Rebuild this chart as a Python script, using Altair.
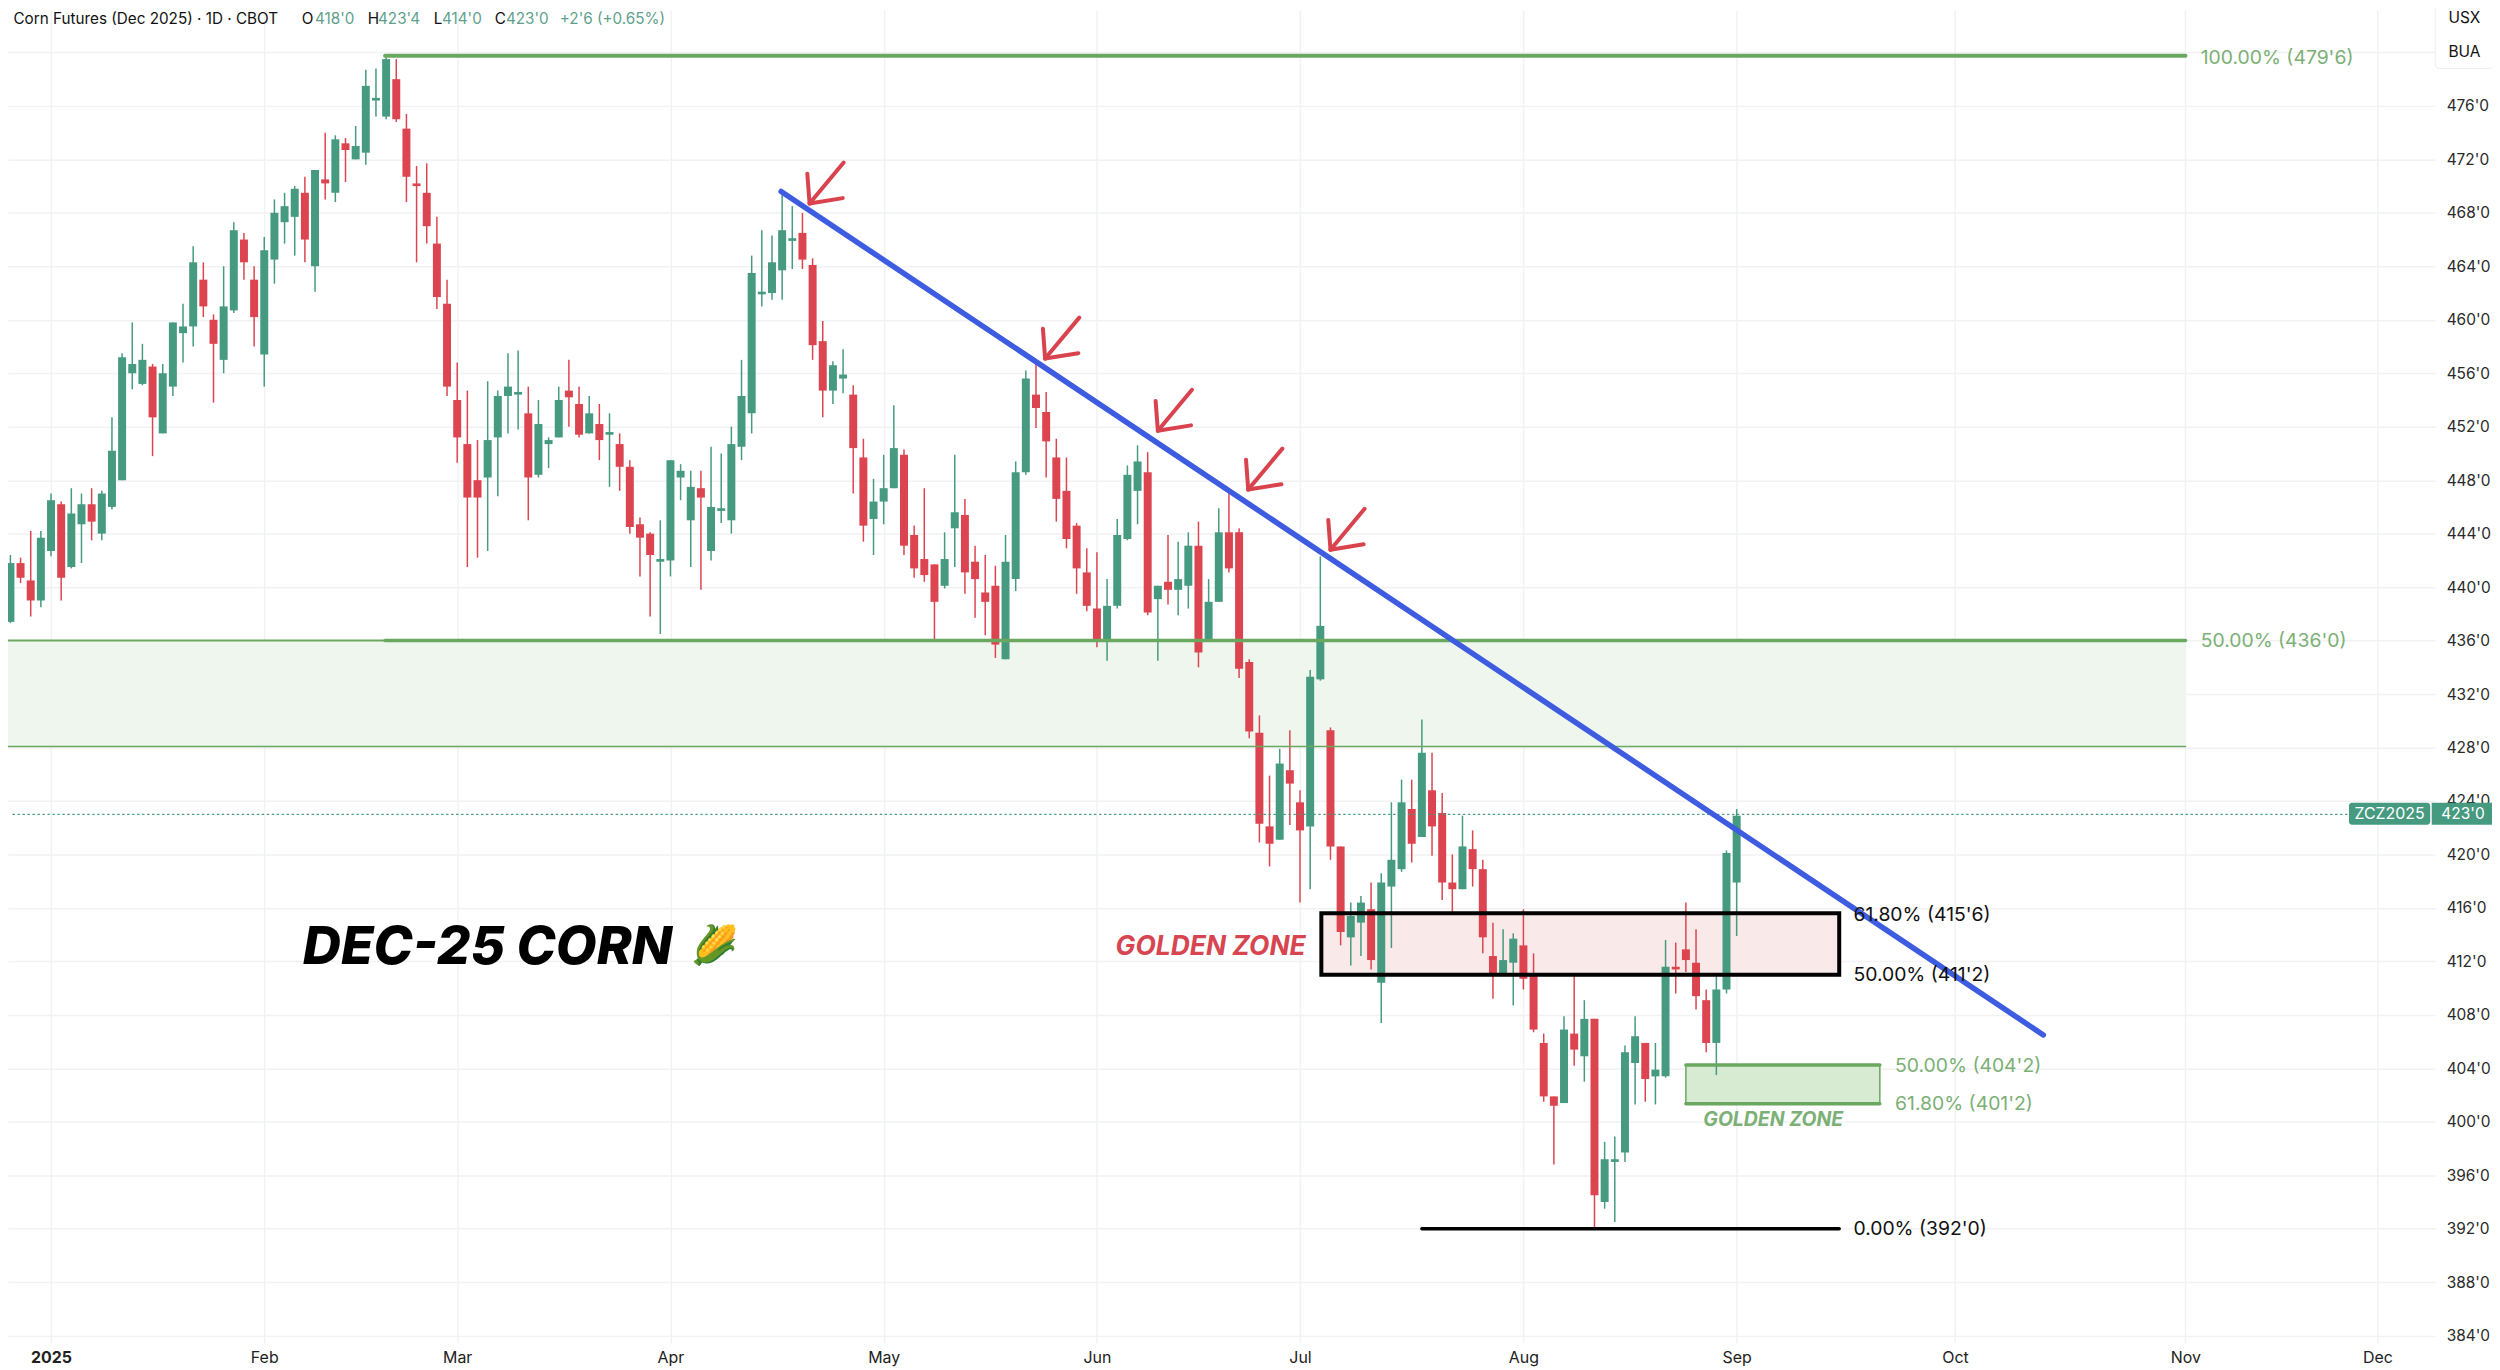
import altair as alt
import pandas as pd

FONT = "Inter"
GREEN = "#469a80"
RED = "#dc4550"
FIB = "#6aa860"
FIBTXT = "#7cb076"

directions = list(
    "GRRGGRGGRG" "GGGGRGGGGR" "RGGRRGGGGR" "GRGRGGGGRR" "RRRRRRRGGG" "GRGGGRRGRG"
    "RRRRGGGGRG" "GGGGGGGGRR" "RGGRRGGGRR" "RRGGRRRRGG" "GRRRRRRRGG" "GGRGRGGRGG"
    "RRRRRGRRGG" "RRGGRGGGRG" "RRRGRRRGGR" "RRRGRGRGGG" "GRGGRRRRGGG"
)
highs = [
442.4,442.2,444.2,444.2,447.0,446.4,447.4,447.0,447.4,447.2,
452.7,457.5,459.8,458.2,456.7,456.7,459.8,461.2,465.5,464.3,
460.4,464.0,467.3,466.5,464.0,466.2,469.0,469.5,470.0,470.7,
471.2,474.0,473.8,473.6,474.5,478.7,478.8,479.8,479.5,475.4,
471.5,471.7,467.7,463.0,456.8,454.7,451.0,455.4,454.7,457.5,
457.7,455.0,454.0,451.2,455.0,457.0,455.0,454.3,453.7,453.0,
451.5,449.5,445.2,444.1,445.0,449.5,449.2,448.7,448.7,450.5,
450.0,452.0,457.0,464.8,466.7,466.3,469.6,468.5,468.0,464.6,
459.9,456.9,457.8,455.1,451.1,448.1,449.9,453.6,450.3,444.6,
447.4,441.7,444.1,449.9,446.6,443.1,442.4,441.6,443.9,449.4,
456.2,456.7,454.6,451.1,449.7,444.8,442.9,442.6,440.6,445.1,
449.1,450.6,450.1,440.1,443.9,443.4,444.1,444.9,440.6,445.9,
447.1,444.4,434.6,430.4,425.9,427.9,429.3,424.8,433.8,442.3,
429.5,420.6,416.4,416.9,417.9,418.6,423.9,425.6,425.6,430.1,
427.6,424.6,420.0,422.9,421.8,419.6,414.9,414.4,414.1,415.9,
412.6,406.6,401.9,407.9,411.0,409.1,407.7,398.5,398.9,405.7,
407.9,405.9,405.9,413.6,413.4,416.4,414.4,409.9,410.9,420.3,423.4,
]
tops = [
441.8,441.8,440.5,443.7,446.5,446.2,445.5,446.2,446.2,447.0,
450.2,457.2,456.7,457.0,456.5,456.0,459.8,459.5,464.3,463.0,
460.0,461.0,466.7,466.0,463.0,465.2,468.0,468.5,469.8,469.5,
471.2,470.5,473.5,473.2,473.0,477.5,476.6,479.5,478.0,474.3,
470.2,469.5,465.7,461.2,454.0,450.7,448.0,451.0,454.3,455.0,
454.6,453.0,452.2,451.0,454.0,454.7,453.7,453.0,452.2,451.6,
450.7,449.0,444.7,444.0,442.1,449.5,448.7,447.5,447.4,446.0,
445.9,450.7,454.3,463.5,462.1,464.3,466.7,466.1,466.5,464.1,
458.4,456.6,455.9,454.4,449.7,446.4,447.4,450.4,449.9,443.9,
442.1,441.7,442.1,445.6,445.4,441.9,439.6,440.1,441.9,448.6,
455.6,454.4,453.1,449.7,447.2,444.6,441.1,438.4,438.6,443.9,
448.4,449.4,448.6,440.1,440.4,440.6,443.1,443.1,438.9,444.1,
444.1,444.1,434.4,429.1,422.1,426.8,426.3,423.9,433.3,437.1,
429.3,420.6,415.4,416.4,415.9,417.9,419.6,423.9,423.4,427.6,
424.8,423.1,417.9,420.6,420.4,418.9,412.4,412.1,413.7,413.2,
411.0,405.9,401.9,406.9,406.6,407.7,407.7,397.2,397.2,405.2,
406.4,405.9,403.9,411.6,411.6,412.9,411.9,409.1,409.9,420.1,422.9,
]
bottoms = [
437.4,440.7,439.0,439.0,442.7,440.7,441.5,444.7,444.9,444.0,
446.0,448.0,456.0,455.2,452.7,451.5,455.0,459.0,459.5,461.0,
458.2,457.0,460.7,464.3,460.2,457.4,464.5,467.3,467.7,466.0,
464.0,470.2,469.5,472.7,472.0,472.5,476.4,475.2,475.0,470.7,
470.0,467.0,461.7,455.0,451.2,446.7,446.7,448.2,451.2,454.3,
454.4,448.2,448.4,450.7,451.2,454.2,451.4,451.5,451.0,451.4,
449.0,444.5,443.7,442.4,441.9,442.0,448.2,445.0,446.7,442.7,
445.7,445.0,450.5,453.0,461.9,462.0,463.7,465.9,464.5,458.1,
454.7,454.7,455.6,450.4,444.6,445.1,446.4,447.4,443.1,441.4,
440.9,438.9,440.1,444.4,441.1,440.6,438.9,435.7,434.6,440.6,
448.6,453.4,450.9,446.6,443.6,441.4,438.6,436.1,436.1,438.6,
443.6,447.2,438.1,439.1,439.8,439.8,440.1,435.1,436.1,438.9,
441.4,433.9,429.2,422.3,420.8,421.1,425.3,421.8,422.1,433.1,
420.6,414.2,413.8,414.9,412.1,410.4,417.6,418.9,420.8,421.3,
422.1,417.9,417.4,417.4,418.9,413.8,411.1,411.0,411.9,410.7,
406.9,401.9,401.2,401.4,405.4,404.9,394.5,394.0,397.0,397.7,
404.4,403.2,403.4,403.4,411.4,412.1,409.4,405.9,405.9,409.9,417.9,
]
lows = [
437.3,440.3,437.8,438.5,442.3,439.0,441.4,441.8,443.5,443.5,
445.8,448.0,454.8,455.1,449.8,451.5,454.3,456.8,458.0,460.2,
453.8,456.0,460.5,463.0,458.0,455.0,462.7,465.7,464.8,464.3,
462.1,469.0,468.8,470.3,472.0,471.6,475.2,475.0,474.8,468.8,
464.3,465.7,460.8,454.3,449.3,441.5,442.2,442.7,446.8,451.5,
451.8,445.0,448.2,448.9,451.2,452.0,451.2,451.5,449.5,447.5,
447.2,444.0,440.8,437.8,436.5,440.8,446.5,441.5,439.8,442.0,
444.8,444.0,449.5,451.5,461.0,461.5,461.5,463.8,463.8,457.0,
452.7,453.7,454.5,447.0,443.4,442.4,444.7,447.4,442.4,440.7,
440.4,436.1,439.9,441.5,439.5,437.7,436.4,434.7,434.6,439.7,
448.4,451.9,448.2,444.9,442.9,439.5,438.2,435.5,434.5,438.4,
443.5,444.7,437.9,434.5,438.7,437.9,438.4,434.0,436.1,438.9,
441.1,433.2,428.7,420.9,419.1,421.1,422.2,416.4,417.4,433.0,
419.6,413.2,411.7,412.4,411.4,407.4,413.0,418.7,419.4,421.3,
419.9,416.6,415.7,417.4,417.6,412.6,409.2,411.0,408.7,409.9,
406.7,401.5,396.8,401.4,404.2,403.0,392.1,393.5,392.5,397.0,
401.3,401.5,401.3,403.3,409.6,411.2,408.4,405.2,403.5,409.6,413.9,
]

month_positions = [4, 25, 44, 65, 86, 107, 127, 149, 170, 191.5, 214.2, 233.1]
month_labels = ["2025", "Feb", "Mar", "Apr", "May", "Jun", "Jul", "Aug", "Sep", "Oct", "Nov", "Dec"]
price_ticks = list(range(384, 481, 4))

candles = pd.DataFrame({
    "i": range(len(highs)), "high": highs, "low": lows, "top": tops, "bottom": bottoms, "dir": directions,
})

label_map = "{" + ",".join(f"'{p}':'{l}'" for p, l in zip(month_positions, month_labels)) + "}"
x_axis = alt.Axis(
    orient="bottom", values=month_positions, labelExpr=f"{label_map}[datum.value]", title=None,
    grid=True, gridColor="#f1f2f4", gridWidth=1.5, domain=False, ticks=False, labelFont=FONT,
    labelFontSize=16, labelColor="#222222", labelPadding=7, labelOverlap=False, labelFlush=False,
    labelBound=False, labelFontWeight=alt.ExprRef("datum.value == 4 ? 'bold' : 'normal'"),
)
y_axis = alt.Axis(
    orient="right", values=price_ticks, labelExpr="datum.value == 480 ? '' : datum.value + \"'0\"",
    title=None, grid=True, gridColor="#f1f2f4", gridWidth=1.5, domain=False, ticks=False,
    labelFont=FONT, labelFontSize=15.5, labelColor="#2a2a2a", labelPadding=11, labelOverlap=False,
    labelFlush=False, labelBound=False,
)

xs = alt.Scale(domain=[0.254, 238.3], nice=False, zero=False)
ys = alt.Scale(domain=[383.46, 483.16], nice=False, zero=False)
X = lambda f="x": alt.X(f"{f}:Q", scale=xs, axis=x_axis)
Y = lambda f="y": alt.Y(f"{f}:Q", scale=ys, axis=y_axis)
COL = alt.Color("dir:N", scale=alt.Scale(domain=["G", "R"], range=[GREEN, RED]), legend=None)


def rect(x, x2, y, y2, **kw):
    d = pd.DataFrame({"x": [x], "x2": [x2], "y": [y], "y2": [y2]})
    return alt.Chart(d).mark_rect(**kw).encode(X(), x2="x2:Q", y=Y(), y2="y2:Q")


def hline(x, x2, y, color, width, **kw):
    d = pd.DataFrame({"x": [x], "x2": [x2], "y": [y]})
    return alt.Chart(d).mark_rule(color=color, strokeWidth=width, strokeCap="round", **kw).encode(X(), x2="x2:Q", y=Y())


def label(x, y, text, color, size, align="left", weight="normal", style="normal", font=FONT):
    d = pd.DataFrame({"x": [x], "y": [y], "t": [text]})
    return alt.Chart(d).mark_text(
        color=color, fontSize=size, align=align, baseline="middle", fontWeight=weight, fontStyle=style, font=font
    ).encode(X(), Y(), text="t:N")


layers = [
    rect(-1, 214.2, 436.0, 428.08, fill="#eef6ee"),
    rect(129.1, 180.1, 415.6, 411.0, fill="#f9e9e9"),
    rect(165, 184.1, 404.25, 401.35, fill="#d6ebd2"),
]

# candles
layers.append(alt.Chart(candles).mark_rule(strokeWidth=1.5).encode(X("i"), Y("high"), y2="low:Q", color=COL))
layers.append(alt.Chart(candles).mark_bar(size=8).encode(X("i"), Y("top"), y2="bottom:Q", color=COL))

# fib levels and band lines
layers += [
    hline(36.9, 214.2, 479.75, FIB, 4),
    hline(-1, 36.9, 436.0, FIB, 2),
    hline(36.9, 214.2, 436.0, FIB, 3.5),
    hline(-1, 214.2, 428.08, FIB, 1.5),
    hline(0.254, 230.3, 423.0, GREEN, 1.2, strokeDash=[1.5, 3.5]),
    rect(165, 184.1, 404.25, 401.35, fillOpacity=0, fill="#ffffff", stroke=FIB, strokeWidth=1.5),
    hline(165, 184.1, 404.25, FIB, 3.5),
    hline(165, 184.1, 401.35, FIB, 3.5),
    rect(129.1, 180.1, 415.6, 411.0, fillOpacity=0, fill="#ffffff", stroke="#000000", strokeWidth=4),
    hline(139, 180.1, 392.0, "#000000", 3.5),
]

# trend line
trend = pd.DataFrame({"x": [75.9, 200.2], "y": [469.6, 406.5]})
layers.append(alt.Chart(trend).mark_line(color="#3d5ce0", strokeWidth=5.5, strokeCap="round").encode(X(), Y()))

# red arrows: tip position, then shaft and head offsets in bars/price
arrow_tip_x = [78.7, 101.9, 113.0, 121.9, 130.0]
arrow_tip_y = [468.7, 457.1, 451.7, 447.3, 442.8]
rows = []
for n, (tx, ty) in enumerate(zip(arrow_tip_x, arrow_tip_y)):
    for part, (dx, dy) in enumerate([(3.36, 3.06), (-0.22, 2.23), (3.27, 0.4)]):
        rows.append({"a": f"{n}-{part}", "o": 0, "x": tx, "y": ty})
        rows.append({"a": f"{n}-{part}", "o": 1, "x": tx + dx, "y": ty + dy})
layers.append(
    alt.Chart(pd.DataFrame(rows)).mark_line(color="#d9434e", strokeWidth=4, strokeCap="round").encode(
        X(), Y(), detail="a:N", order="o:Q"
    )
)

# labels
layers += [
    label(215.7, 479.6, "100.00% (479'6)", FIBTXT, 19.4),
    label(215.7, 436.0, "50.00% (436'0)", FIBTXT, 19.4),
    label(181.5, 415.5, "61.80% (415'6)", "#111111", 19.4),
    label(181.5, 411.0, "50.00% (411'2)", "#111111", 19.4),
    label(181.5, 392.0, "0.00% (392'0)", "#111111", 19.4),
    label(185.6, 404.2, "50.00% (404'2)", FIBTXT, 19.4),
    label(185.6, 401.3, "61.80% (401'2)", FIBTXT, 19.4),
    label(173.6, 400.1, "GOLDEN ZONE", FIBTXT, 19.5, align="center", weight="bold", style="italic"),
    label(118.2, 413.1, "GOLDEN ZONE", "#d64550", 26.5, align="center", weight="bold", style="italic"),
    label(28.8, 413.0, "DEC-25 CORN", "#000000", 53, weight=800, style="italic"),
    label(69.3, 413.1, "🌽", "#e0a020", 38, align="center"),
]

# header
TEAL = "#5f9f8d"
for x, t, c in [
    (0.3, "Corn Futures (Dec 2025) · 1D · CBOT", "#111111"),
    (28.7, "O", "#111111"), (30.0, "418'0", TEAL),
    (35.2, "H", "#111111"), (36.2, "423'4", TEAL),
    (41.7, "L", "#111111"), (42.5, "414'0", TEAL),
    (47.7, "C", "#111111"), (48.8, "423'0", TEAL),
    (54.1, "+2'6 (+0.65%)", TEAL),
]:
    layers.append(label(x, 482.5, t, c, 15.3))

# last price badges and unit box
layers += [
    rect(230.3, 238.3, 423.87, 422.23, fill=GREEN, cornerRadius=3),
    rect(238.45, 244.5, 423.87, 422.23, fill=GREEN),
    label(234.3, 423.0, "ZCZ2025", "#ffffff", 16, align="center"),
    label(239.4, 423.0, "423'0", "#ffffff", 15.5),
    rect(238.8, 244.5, 484, 478.8, fill="#ffffff", stroke="#eeeeee", strokeWidth=1, cornerRadius=4),
    label(240.1, 482.6, "USX", "#111111", 15.5),
    label(240.1, 480.0, "BUA", "#111111", 15.5),
]

chart = (
    alt.layer(*layers)
    .resolve_scale(color="independent")
    .properties(
        width=2435, height=1337,
        padding={"left": 0, "top": 0, "right": 57, "bottom": 25},
        autosize=alt.AutoSizeParams(type="none"),
        background="#ffffff",
    )
    .configure_view(stroke=None)
)
chart.save("out.html", embed_options={"renderer": "svg", "actions": False})
